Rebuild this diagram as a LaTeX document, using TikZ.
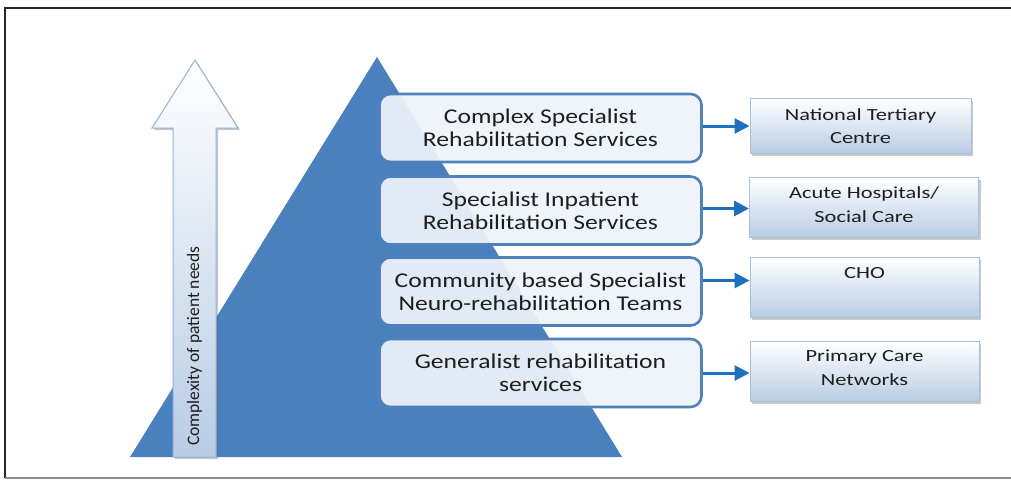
\documentclass[tikz,border=0pt]{standalone}
\usepackage{fontspec}
\setmainfont{Carlito}
\newfontfamily\midfont[FakeStretch=1.22]{Carlito}
\newfontfamily\rightfont[FakeStretch=1.32]{Carlito}
\usetikzlibrary{arrows.meta,shadows}
\definecolor{tri}{HTML}{4A80BD}
\definecolor{mborder}{HTML}{4F81BD}
\definecolor{mfill}{HTML}{EEF3FA}
\definecolor{conn}{HTML}{1F6FBF}
\definecolor{rborder}{HTML}{A7C0DE}
\definecolor{rbottom}{HTML}{B8CCE4}
\definecolor{abord}{HTML}{95B3D7}
\definecolor{txt}{HTML}{1E1E1E}
\begin{document}
\begin{tikzpicture}[x=1pt,y=-1pt,
  mbox/.style={draw=mborder, line width=2.6pt, rounded corners=11pt, fill=mfill,
    fill opacity=0.93, text opacity=1, minimum width=322pt, minimum height=68pt,
    align=center, text=txt, font=\midfont\fontsize{21}{23}\selectfont, inner sep=0pt},
  rbox/.style={draw=rborder, line width=1pt, top color=white, bottom color=rbottom,
    drop shadow={shadow xshift=2pt, shadow yshift=-2pt, opacity=0.35, fill=black!60},
    inner sep=0pt},
  rtext/.style={align=center, text=txt, font=\rightfont\fontsize{17}{23.5}\selectfont, inner sep=0pt},
  link/.style={draw=conn, line width=3pt, -{Triangle[length=15pt,width=15pt]}},
]
\useasboundingbox (0,0) rectangle (1011,480);
\clip (0,0) rectangle (1011,480);
\fill[white] (0,0) rectangle (1011,480);
% frame
\draw[line width=2pt, black!85] (1020,8) -- (5,8) -- (5,478);
\draw[line width=1.5pt, black!45] (5,478) -- (1020,478);
% pyramid
\fill[tri] (377,57) -- (622,457) -- (130,457) -- cycle;
% up arrow
\draw[draw=abord, line width=1pt, top color=white, bottom color=rbottom,
  drop shadow={shadow xshift=2pt, shadow yshift=-2pt, opacity=0.35, fill=black!60}]
  (195,60) -- (238,128) -- (216,128) -- (216,457) -- (173,457) -- (173,128) -- (152,128) -- cycle;
\node[rotate=90, anchor=west, inner sep=0pt, text=txt, font=\fontsize{17.5}{20}\selectfont]
  (axis) at (194.5,446) {Complexity of patient needs};
% middle boxes
\node[mbox] (b1) at (540.5,128) {Complex Specialist\\Rehabilitation Services};
\node[mbox] (b2) at (540.5,210.5) {Specialist Inpatient\\Rehabilitation Services};
\node[mbox] (b3) at (540.5,291.5) {Community based Specialist\\Neuro-rehabilitation Teams};
\node[mbox] (b4) at (540.5,373) {Generalist rehabilitation\\services};
% right boxes
\node[rbox, minimum width=221pt, minimum height=55pt] (r1) at (860.5,126) {};
\node[rbox, minimum width=229pt, minimum height=60pt] (r2) at (864,207.5) {};
\node[rbox, minimum width=229pt, minimum height=60pt] (r3) at (864.5,287.5) {};
\node[rbox, minimum width=229pt, minimum height=60pt] (r4) at (864.5,371.5) {};
\node[rtext] (t1) at (r1.center) {National Tertiary\\Centre};
\node[rtext] (t2) at ([yshift=3pt]r2.center) {Acute Hospitals/\\Social Care};
\node[rtext] (t3) at ([yshift=14pt]r3.center) {CHO};
\node[rtext] (t4) at ([yshift=4pt]r4.center) {Primary Care\\Networks};
% connectors
\draw[link] ([yshift=2pt]b1.east) -- ([yshift=2pt]b1.east -| r1.west);
\draw[link] ([yshift=2pt]b2.east) -- ([yshift=2pt]b2.east -| r2.west);
\draw[link] ([yshift=11pt]b3.east) -- ([yshift=11pt]b3.east -| r3.west);
\draw[link] (b4.east) -- (b4.east -| r4.west);
\end{tikzpicture}
\end{document}
